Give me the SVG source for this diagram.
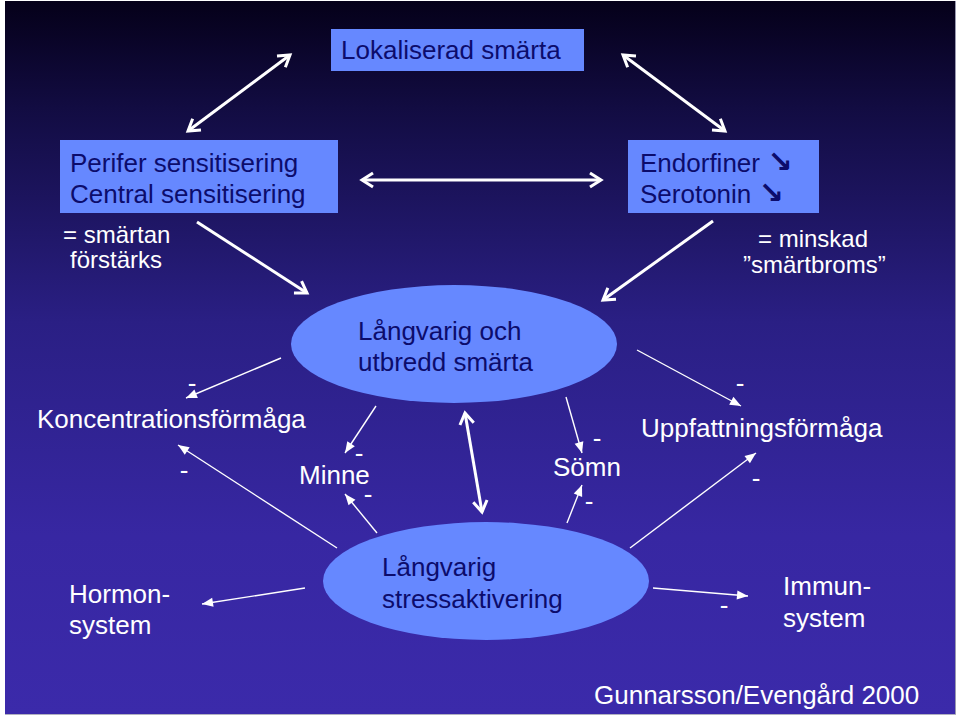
<svg xmlns="http://www.w3.org/2000/svg" width="960" height="716" viewBox="0 0 960 716">
<defs>
<linearGradient id="bg" x1="0" y1="0" x2="0" y2="1">
<stop offset="0" stop-color="#050019"/>
<stop offset="0.15" stop-color="#120c42"/>
<stop offset="0.45" stop-color="#2a1f84"/>
<stop offset="0.75" stop-color="#3727a2"/>
<stop offset="1" stop-color="#3b2aaa"/>
</linearGradient>
<marker id="hb" markerUnits="userSpaceOnUse" markerWidth="20" markerHeight="20" refX="0" refY="0" viewBox="-14 -10 18 20" orient="auto-start-reverse">
<path d="M-11,-7 L0,0 L-11,7" fill="none" stroke="#fff" stroke-width="3" stroke-linejoin="miter"/>
</marker>
<marker id="ht" markerUnits="userSpaceOnUse" markerWidth="14" markerHeight="12" refX="0" refY="0" viewBox="-12 -6 13 12" orient="auto">
<path d="M0,0 L-11,-4.5 L-11,4.5 Z" fill="#fff"/>
</marker>
<style>
.box{fill:#6688ff}
.ell{fill:#6688ff}
.dk{font-family:"Liberation Sans",Arial,sans-serif;font-size:26px;fill:#0c0c6c}
.wt{font-family:"Liberation Sans",Arial,sans-serif;font-size:26px;fill:#fff}
.ws{font-family:"Liberation Sans",Arial,sans-serif;font-size:24px;fill:#fff}
.dash{font-family:"Liberation Sans",Arial,sans-serif;font-size:26px;fill:#fff;text-anchor:middle}
.thick{stroke:#fff;stroke-width:3;fill:none;marker-end:url(#hb);marker-start:url(#hb)}
.thick1{stroke:#fff;stroke-width:3;fill:none;marker-end:url(#hb)}
.thin{stroke:#fff;stroke-width:1.4;fill:none;marker-end:url(#ht)}
.arr{font-family:"DejaVu Sans",sans-serif;font-size:30px;font-weight:bold}
</style>
</defs>
<rect x="0" y="0" width="960" height="716" fill="#ffffff"/>
<rect x="5" y="1" width="950" height="713" fill="url(#bg)"/>
<line x1="955.5" y1="1" x2="955.5" y2="714" stroke="#9a9ab0" stroke-width="1"/>
<line x1="5" y1="714.5" x2="956" y2="714.5" stroke="#b0b0c0" stroke-width="1"/>

<g id="connectors">
<line class="thick" x1="188" y1="131" x2="290" y2="55"/>
<line class="thick" x1="623" y1="55" x2="725" y2="131"/>
<line class="thick" x1="362" y1="180" x2="601" y2="180"/>
<line class="thick1" x1="197" y1="222" x2="307" y2="293"/>
<line class="thick1" x1="713" y1="221" x2="603" y2="300"/>
<line class="thick" x1="465" y1="413" x2="482" y2="512"/>
<line class="thin" x1="281" y1="358" x2="186" y2="398"/>
<line class="thin" x1="376" y1="406" x2="345" y2="453"/>
<line class="thin" x1="337" y1="548" x2="178" y2="445"/>
<line class="thin" x1="377" y1="533" x2="345" y2="494"/>
<line class="thin" x1="566" y1="397" x2="582" y2="453"/>
<line class="thin" x1="567" y1="523" x2="582" y2="485"/>
<line class="thin" x1="637" y1="350" x2="741" y2="406"/>
<line class="thin" x1="630" y1="548" x2="756" y2="453"/>
<line class="thin" x1="305" y1="588" x2="202" y2="604"/>
<line class="thin" x1="653" y1="588" x2="748" y2="596"/>
</g>

<g id="lokaliserad">
<rect class="box" x="331" y="29" width="253" height="42"/>
<text class="dk" x="341" y="59">Lokaliserad smärta</text>
</g>
<g id="sensitisering">
<rect class="box" x="60" y="140" width="278" height="73"/>
<text class="dk" x="70" y="172">Perifer sensitisering</text>
<text class="dk" x="70" y="203">Central sensitisering</text>
</g>
<g id="endorfiner">
<rect class="box" x="628" y="140" width="191" height="73"/>
<text class="dk" x="640" y="172">Endorfiner <tspan class="arr">↘</tspan></text>
<text class="dk" x="640" y="203">Serotonin <tspan class="arr">↘</tspan></text>
</g>
<g id="smartan">
<text class="ws" x="63" y="243">= smärtan</text>
<text class="ws" x="70" y="268">förstärks</text>
</g>
<g id="minskad">
<text class="ws" x="758" y="247">= minskad</text>
<text class="ws" x="743" y="273">”smärtbroms”</text>
</g>
<g id="utbredd">
<ellipse class="ell" cx="454" cy="344" rx="163" ry="59"/>
<text class="dk" x="358" y="340">Långvarig och</text>
<text class="dk" x="358" y="371">utbredd smärta</text>
</g>
<g id="stress">
<ellipse class="ell" cx="486" cy="581" rx="163" ry="59"/>
<text class="dk" x="382" y="576">Långvarig</text>
<text class="dk" x="382" y="608">stressaktivering</text>
</g>
<g id="koncentration">
<text class="wt" x="37" y="428">Koncentrationsförmåga</text>
</g>
<g id="minne">
<text class="wt" x="299" y="484">Minne</text>
</g>
<g id="somn">
<text class="wt" x="553" y="476">Sömn</text>
</g>
<g id="uppfattning">
<text class="wt" x="641" y="437">Uppfattningsförmåga</text>
</g>
<g id="hormon">
<text class="wt" x="69" y="603">Hormon-</text>
<text class="wt" x="69" y="634">system</text>
</g>
<g id="immun">
<text class="wt" x="783" y="595">Immun-</text>
<text class="wt" x="783" y="627">system</text>
</g>
<g id="dashes">
<text class="dash" x="192" y="392">-</text>
<text class="dash" x="184" y="479">-</text>
<text class="dash" x="359" y="462">-</text>
<text class="dash" x="368" y="503">-</text>
<text class="dash" x="597" y="447">-</text>
<text class="dash" x="589" y="510">-</text>
<text class="dash" x="740" y="392">-</text>
<text class="dash" x="756" y="487">-</text>
<text class="dash" x="724" y="614">-</text>
</g>
<g id="credit">
<text class="wt" x="594" y="704">Gunnarsson/Evengård 2000</text>
</g>
</svg>
